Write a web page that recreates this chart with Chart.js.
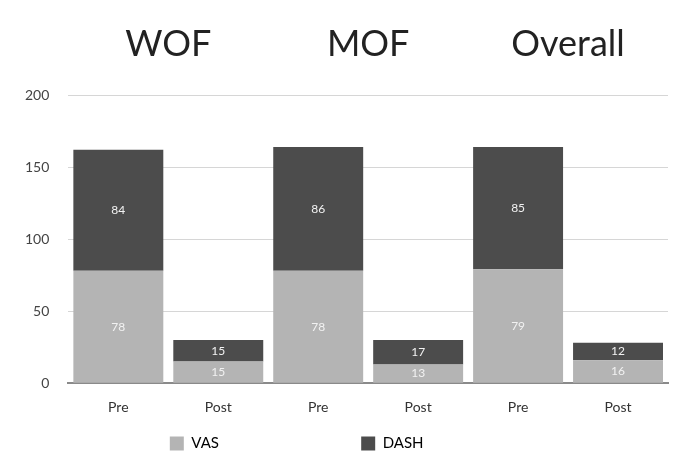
<!DOCTYPE html>
<html>
<head>
<meta charset="utf-8">
<script src="https://cdn.jsdelivr.net/npm/chart.js@4"></script>
<style>
  html, body { margin: 0; padding: 0; background: #ffffff; }
  #wrap { width: 675px; height: 461px; }
</style>
</head>
<body>
<div id="wrap"><canvas id="c"></canvas></div>
<script>
// Pain (VAS) and disability (DASH) scores before and after treatment
const categories = ['Pre', 'Post', 'Pre', 'Post', 'Pre', 'Post'];
const groups = ['WOF', 'MOF', 'Overall'];
const vasValues = [78, 15, 78, 13, 79, 16];
const dashValues = [84, 15, 86, 17, 85, 12];
const yTicks = [0, 50, 100, 150, 200];

const FONT = 'Lato, "Open Sans", sans-serif';

// Group titles centred above each Pre/Post pair
const groupTitles = {
  id: 'groupTitles',
  afterDraw(chart) {
    const { ctx, scales: { x } } = chart;
    ctx.save();
    ctx.fillStyle = '#222222';
    ctx.font = '36px ' + FONT;
    ctx.textAlign = 'center';
    ctx.textBaseline = 'middle';
    groups.forEach((g, i) => {
      const cx = (x.getPixelForValue(i * 2) + x.getPixelForValue(i * 2 + 1)) / 2;
      ctx.fillText(g, cx, 44);
    });
    ctx.restore();
  }
};

// Value labels in the middle of each stacked segment
const segmentLabels = {
  id: 'segmentLabels',
  afterDatasetsDraw(chart) {
    const { ctx } = chart;
    ctx.save();
    ctx.font = '12px ' + FONT;
    ctx.textAlign = 'center';
    ctx.textBaseline = 'middle';
    ctx.fillStyle = '#f2f2f2';
    chart.data.datasets.forEach((ds, di) => {
      const meta = chart.getDatasetMeta(di);
      meta.data.forEach((bar, i) => {
        const y = (bar.y + bar.base) / 2;
        ctx.fillText(String(ds.data[i]), bar.x, y);
      });
    });
    ctx.restore();
  }
};

// Legend entries are padded with trailing spaces to spread them apart
const legendGaps = ['                                    ', '                     '];

new Chart(document.getElementById('c'), {
  type: 'bar',
  data: {
    labels: categories,
    datasets: [
      { label: 'VAS', data: vasValues, backgroundColor: '#b4b4b4' },
      { label: 'DASH', data: dashValues, backgroundColor: '#4c4c4c' }
    ]
  },
  options: {
    responsive: true,
    maintainAspectRatio: false,
    animation: false,
    categoryPercentage: 0.9,
    barPercentage: 1.0,
    layout: { padding: { top: 95, right: 7, left: 6, bottom: 0 } },
    plugins: {
      legend: {
        position: 'bottom',
        labels: {
          boxWidth: 14,
          boxHeight: 14,
          padding: 4,
          color: '#333333',
          font: { family: FONT, size: 15 },
          generateLabels(chart) {
            return chart.data.datasets.map((ds, i) => ({
              text: ds.label + legendGaps[i],
              fillStyle: ds.backgroundColor,
              strokeStyle: ds.backgroundColor,
              lineWidth: 0,
              datasetIndex: i,
              hidden: false
            }));
          }
        }
      },
      tooltip: { enabled: false }
    },
    scales: {
      x: {
        stacked: true,
        grid: { display: false, drawTicks: false },
        border: { display: true, color: '#8a8a8a', width: 2 },
        ticks: { color: '#333333', padding: 16, font: { family: FONT, size: 14 } }
      },
      y: {
        stacked: true,
        min: 0,
        max: 200,
        afterBuildTicks(scale) { scale.ticks = yTicks.map(v => ({ value: v })); },
        grid: { color: '#d6d6d6', lineWidth: 1, drawTicks: false },
        border: { display: false },
        ticks: { color: '#444444', padding: 19, font: { family: FONT, size: 14 } }
      }
    }
  },
  plugins: [groupTitles, segmentLabels]
});
</script>
</body>
</html>
